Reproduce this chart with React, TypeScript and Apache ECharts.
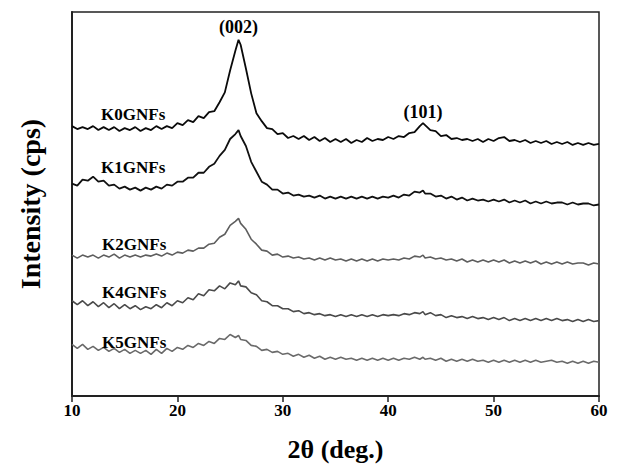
import React, { useEffect, useRef } from "react";
import * as echarts from "echarts";

const twoTheta = [
  10, 10.5, 11, 11.5, 12, 12.5, 13, 13.5, 14, 14.5, 15, 15.5, 16, 16.5, 17, 17.5, 18, 18.5, 19, 19.5,
  20, 20.5, 21, 21.5, 22, 22.5, 23, 23.5, 24, 24.5, 25, 25.5, 25.8, 26, 26.5, 27, 27.5, 28, 28.5, 29, 29.5,
  30, 30.5, 31, 31.5, 32, 32.5, 33, 33.5, 34, 34.5, 35, 35.5, 36, 36.5, 37, 37.5, 38, 38.5, 39, 39.5,
  40, 40.5, 41, 41.5, 42, 42.5, 43, 43.3, 43.5, 44, 44.5, 45, 45.5, 46, 46.5, 47, 47.5, 48, 48.5, 49, 49.5,
  50, 50.5, 51, 51.5, 52, 52.5, 53, 53.5, 54, 54.5, 55, 55.5, 56, 56.5, 57, 57.5, 58, 58.5, 59, 59.5, 60,
];

const k0 = [
  272, 269, 271, 269, 272, 268, 271, 268, 271, 267, 270, 268, 271, 267, 270, 268, 272, 269, 272, 270,
  275, 273, 278, 276, 282, 280, 286, 287, 296, 306, 328, 348, 359, 354, 330, 305, 285, 277, 270, 269, 264,
  265, 260, 262, 259, 262, 258, 261, 257, 260, 256, 259, 256, 259, 255, 258, 256, 260, 257, 259, 258,
  261, 259, 262, 261, 265, 266, 272, 275, 273, 268, 267, 262, 263, 259, 260, 258, 259, 257, 259, 256, 259,
  257, 260, 261, 257, 258, 256, 258, 255, 257, 255, 257, 254, 256, 254, 256, 253, 255, 253, 255, 253, 254,
];

const k1 = [
  214, 212, 218, 217, 221, 216, 217, 212, 213, 209, 211, 208, 210, 207, 210, 208, 211, 209, 213, 212,
  216, 216, 220, 220, 225, 225, 231, 234, 242, 248, 259, 264, 268, 262, 252, 236, 226, 216, 213, 208, 208,
  204, 205, 202, 203, 201, 202, 200, 202, 199, 201, 199, 201, 199, 201, 199, 201, 199, 201, 199, 201,
  200, 202, 200, 203, 202, 206, 205, 207, 204, 204, 201, 202, 199, 201, 198, 200, 197, 199, 197, 198, 196,
  198, 196, 198, 195, 197, 195, 197, 194, 196, 194, 196, 194, 195, 195, 193, 195, 193, 194, 194, 192, 193,
];

const k2 = [
  142, 139, 142, 140, 142, 139, 142, 140, 143, 139, 142, 140, 142, 140, 142, 141, 143, 141, 144, 142,
  145, 144, 147, 146, 149, 149, 153, 154, 160, 163, 172, 176, 179, 174, 168, 158, 153, 147, 146, 142, 143,
  140, 141, 139, 140, 138, 139, 137, 139, 137, 139, 137, 138, 136, 138, 136, 138, 136, 138, 136, 138,
  137, 138, 137, 139, 138, 141, 140, 142, 139, 140, 138, 139, 137, 138, 136, 138, 135, 137, 135, 137, 135,
  137, 135, 137, 134, 136, 134, 136, 134, 136, 133, 135, 133, 135, 133, 135, 133, 134, 134, 132, 134, 133,
];

const k4 = [
  96, 92, 96, 91, 95, 90, 94, 89, 93, 88, 92, 88, 91, 87, 90, 88, 92, 89, 94, 91,
  96, 94, 99, 97, 103, 101, 107, 106, 111, 108, 114, 112, 116, 111, 110, 104, 102, 96, 95, 91, 91,
  88, 88, 85, 86, 83, 84, 82, 83, 81, 82, 80, 82, 80, 82, 80, 82, 80, 82, 80, 82,
  81, 82, 81, 83, 82, 84, 83, 85, 82, 84, 81, 82, 79, 81, 79, 80, 78, 80, 78, 79, 77,
  79, 77, 79, 76, 78, 76, 78, 76, 78, 76, 78, 76, 78, 76, 77, 75, 77, 75, 77, 75, 76,
];

const k5 = [
  52, 48, 52, 47, 50, 46, 49, 45, 48, 44, 47, 43, 46, 43, 46, 42, 47, 43, 48, 45,
  49, 47, 51, 49, 53, 51, 55, 53, 58, 57, 62, 59, 61, 57, 56, 51, 50, 46, 47, 44, 45,
  42, 43, 40, 42, 39, 41, 38, 40, 37, 39, 37, 39, 37, 38, 36, 38, 36, 38, 36, 38,
  36, 38, 36, 38, 37, 39, 37, 39, 37, 38, 36, 38, 35, 37, 35, 37, 35, 37, 35, 36, 34,
  36, 34, 36, 34, 36, 34, 36, 34, 36, 34, 35, 36, 34, 35, 33, 35, 33, 35, 33, 35, 34,
];

const seriesNames = ["K0GNFs", "K1GNFs", "K2GNFs", "K4GNFs", "K5GNFs"];
const seriesValues = [k0, k1, k2, k4, k5];
const seriesColors = ["#0a0a0a", "#111111", "#5e5e5e", "#4a4a4a", "#6a6a6a"];
const seriesWidths = [1.8, 1.8, 1.6, 1.6, 1.6];
// label anchor positions in data space: [2θ, intensity]
const nameAnchors = [
  [15.8, 284],
  [15.8, 230],
  [15.9, 153],
  [15.9, 104],
  [15.9, 54],
];
const peakLabels = [
  { text: "(002)", at: [25.8, 372] },
  { text: "(101)", at: [43.3, 286] },
];

const xTicks = [10, 20, 30, 40, 50, 60];
const FONT = '"Liberation Serif", "Times New Roman", serif';

export default function App() {
  const ref = useRef<HTMLDivElement>(null);
  useEffect(() => {
    if (!ref.current) return;
    const chart = echarts.init(ref.current, undefined, { renderer: "svg" });
    const labelStyle = {
      fontFamily: FONT,
      fontWeight: "bold",
      fontSize: 17,
      color: "#000",
    };
    const series: any[] = seriesNames.map((name, i) => ({
      name,
      type: "line",
      data: twoTheta.map((x, j) => [x, seriesValues[i][j]]),
      showSymbol: false,
      symbol: "none",
      lineStyle: { color: seriesColors[i], width: seriesWidths[i] },
      silent: true,
      markPoint: {
        symbol: "circle",
        symbolSize: 0,
        silent: true,
        label: { show: true, position: "inside", formatter: name, ...labelStyle },
        data: [{ coord: nameAnchors[i] }],
      },
    }));
    series.push({
      type: "scatter",
      data: [],
      markPoint: {
        symbol: "circle",
        symbolSize: 0,
        silent: true,
        label: { show: true, position: "inside", ...labelStyle, fontSize: 18 },
        data: peakLabels.map((p) => ({ coord: p.at, label: { formatter: p.text } })),
      },
    });
    chart.setOption({
      animation: false,
      backgroundColor: "#fff",
      grid: {
        left: 72,
        right: 22,
        top: 12,
        bottom: 68,
        show: true,
        borderColor: "#222",
        borderWidth: 1.5,
      },
      xAxis: {
        type: "value",
        min: 10,
        max: 60,
        interval: 10,
        name: "2\u03b8 (deg.)",
        nameLocation: "middle",
        nameGap: 40,
        nameTextStyle: { fontFamily: FONT, fontWeight: "bold", fontSize: 26, color: "#000" },
        axisLine: { show: true, lineStyle: { color: "#222", width: 2 } },
        axisTick: { show: true, inside: false, length: 6, lineStyle: { color: "#222", width: 1.5 } },
        axisLabel: {
          fontFamily: FONT,
          fontWeight: "bold",
          fontSize: 17,
          color: "#000",
          margin: 6,
          customValues: xTicks,
        },
        splitLine: { show: false },
      },
      yAxis: {
        type: "value",
        min: 0,
        max: 387,
        name: "Intensity (cps)",
        nameLocation: "middle",
        nameGap: 28,
        nameTextStyle: { fontFamily: FONT, fontWeight: "bold", fontSize: 28, color: "#000" },
        axisLine: { show: true, lineStyle: { color: "#222", width: 2 } },
        axisTick: { show: false },
        axisLabel: { show: false },
        splitLine: { show: false },
      },
      series,
    });
    return () => chart.dispose();
  }, []);
  return <div ref={ref} style={{ width: 621, height: 467, position: "absolute", left: 0, top: 0 }} />;
}
